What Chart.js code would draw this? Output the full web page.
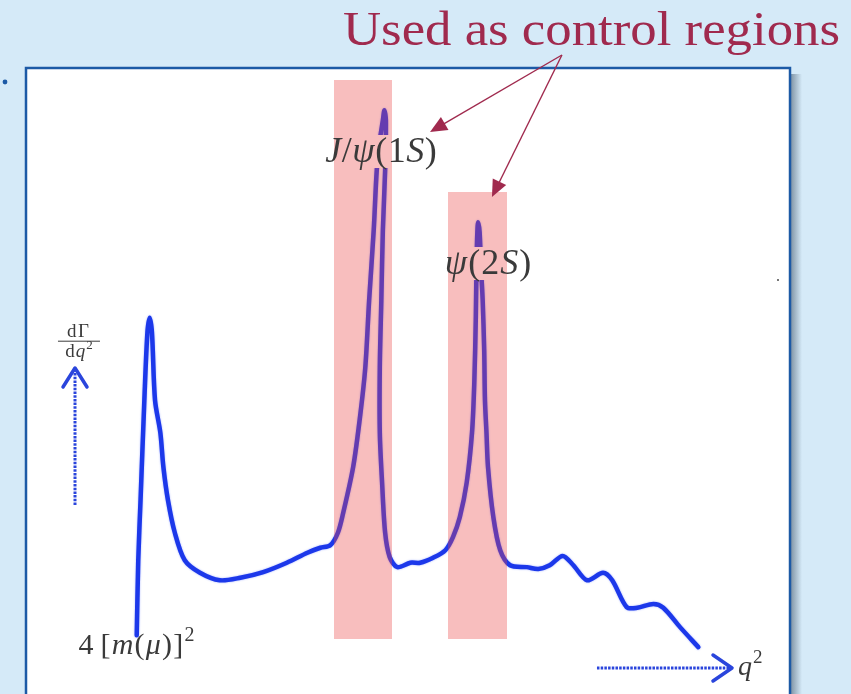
<!DOCTYPE html>
<html>
<head>
<meta charset="utf-8">
<script src="https://cdn.jsdelivr.net/npm/chart.js@4.4.1/dist/chart.umd.min.js"></script>
<style>
html,body{margin:0;padding:0;background:#d5eaf8;}
canvas{display:block;}
</style>
</head>
<body>
<canvas id="c" width="851" height="694"></canvas>
<script>
// ---- data (arbitrary units: q^2 along x, dGamma/dq^2 along y) ----
const qSquared = [14.4,14.6,14.9,15.4,15.8,16.1,16.4,16.8,17.5,17.9,18.5,19.4,20.7,22.7,25.3,28.0,
  31.0,34.1,36.8,38.5,39.8,40.8,41.5,42.8,43.7,44.4,44.9,45.5,45.9,46.3,46.7,46.9,47.1,47.0,46.7,46.5,
  46.3,46.3,46.6,47.0,47.6,48.6,50.3,51.6,53.3,54.9,55.9,56.8,57.7,58.4,58.7,58.9,59.0,59.1,59.2,59.4,
  59.6,59.8,60.0,60.1,60.3,60.5,61.2,62.1,63.4,65.6,67.1,68.6,70.3,71.7,73.5,75.6,76.8,78.7,80.1,82.2,
  83.5,85.7,88.1];
const rate = [9.4,21.4,31.0,47.0,57.8,60.2,57.8,47.0,41.8,36.3,31.0,25.8,21.4,19.4,18.2,18.6,
  19.5,21.0,22.6,23.4,23.8,25.8,29.0,36.3,44.3,52.3,63.0,74.2,83.8,88.6,91.8,93.4,91.8,83.8,74.2,63.0,
  52.3,41.8,33.8,25.8,21.9,20.3,21.0,21.0,21.8,23.0,25.1,28.3,33.8,41.8,49.8,60.3,69.4,73.9,75.5,73.9,
  67.8,63.0,55.0,47.0,41.8,36.3,28.3,23.0,20.6,20.3,20.0,20.6,22.1,20.6,18.2,19.4,18.2,13.9,13.8,14.4,
  13.8,10.7,7.5];
// control regions (pink bands)
const bandNames  = ['J/ψ(1S)', 'ψ(2S)'];
const bandStart  = [40.3, 55.25];
const bandEnd    = [47.9, 63.0];
const bandTop    = [98.2, 80.3];
const bandBottom = [8.8, 8.8];
// resonance label anchors
const labelX = [46.46, 60.5];
const labelY = [87.0, 69.1];
// annotation arrow targets
const arrowTipX = [52.89, 61.02];
const arrowTipY = [89.92, 79.52];
const arrowFrom = {x: 70.2, y: 102.24};
const titleText = 'Used as control regions';
const yAxisLabel = ['dΓ', 'dq²'];
const xAxisLabel = 'q²';
const thresholdLabel = '4 [m(μ)]²';

const BAND_FILL = 'rgba(235,70,70,0.35)';
const ITALIC = 'JψSmμq';
const MATH_FONT = '"Liberation Serif"';

function drawMath(ctx, str, x, baseline, size, align, color, spread) {
  spread = spread || 0;
  const runs = [];
  for (const ch of str) {
    if (ch === '²') runs.push({t:'2', it:false, sup:true});
    else runs.push({t:ch, it: ITALIC.includes(ch), sup:false});
  }
  const fontFor = r => (r.it ? 'italic ' : '') + (r.sup ? Math.round(size*0.68) : size) + 'px ' + MATH_FONT;
  let total = 0;
  runs.forEach((r, i) => {
    ctx.font = fontFor(r);
    r.w = ctx.measureText(r.t).width * (r.t === ' ' ? 0.6 : 1) + (i < runs.length - 1 ? spread : 0);
    total += r.w;
  });
  let cx = align === 'center' ? x - total/2 : (align === 'right' ? x - total : x);
  ctx.fillStyle = color;
  ctx.textBaseline = 'alphabetic';
  ctx.textAlign = 'left';
  for (const r of runs) {
    ctx.font = fontFor(r);
    ctx.fillText(r.t, cx, r.sup ? baseline - size*0.42 : baseline);
    cx += r.w;
  }
  return total;
}

function arrowHead(ctx, x1, y1, x2, y2, len, half) {
  const a = Math.atan2(y2 - y1, x2 - x1);
  ctx.beginPath();
  ctx.moveTo(x2, y2);
  ctx.lineTo(x2 - len*Math.cos(a) + half*Math.sin(a), y2 - len*Math.sin(a) - half*Math.cos(a));
  ctx.lineTo(x2 - len*Math.cos(a) - half*Math.sin(a), y2 - len*Math.sin(a) + half*Math.cos(a));
  ctx.closePath();
  ctx.fill();
}

const slidePlugin = {
  id: 'slide',
  beforeDraw(chart) {
    const ctx = chart.ctx;
    ctx.save();
    ctx.fillStyle = '#d5eaf8';
    ctx.fillRect(0, 0, chart.width, chart.height);
    // shadow of the framed box
    const g = ctx.createLinearGradient(791, 0, 802, 0);
    g.addColorStop(0, 'rgba(60,80,100,0.55)');
    g.addColorStop(1, 'rgba(60,80,100,0)');
    ctx.fillStyle = g;
    ctx.fillRect(791, 74, 11, chart.height);
    // white framed box
    ctx.fillStyle = '#ffffff';
    ctx.fillRect(26, 68, 764, chart.height);
    ctx.strokeStyle = '#1c5aa6';
    ctx.lineWidth = 2.5;
    ctx.strokeRect(26, 68, 764, chart.height + 10);
    // bullet
    ctx.fillStyle = '#1c5aa6';
    ctx.beginPath(); ctx.arc(5, 82, 2.4, 0, Math.PI*2); ctx.fill();
    // tiny speck
    ctx.fillStyle = '#777';
    ctx.fillRect(777, 279, 2, 2);
    // title
    ctx.font = '48px "Liberation Serif"';
    const w = ctx.measureText(titleText).width;
    const target = 497;
    ctx.translate(343, 45);
    ctx.scale(target / w, 1);
    ctx.fillStyle = '#a02a4e';
    ctx.textAlign = 'left';
    ctx.textBaseline = 'alphabetic';
    ctx.fillText(titleText, 0, 0);
    ctx.restore();
  },
  beforeDatasetsDraw(chart) {
    const ctx = chart.ctx;
    ctx.save();
    ctx.shadowColor = 'rgba(40,70,255,0.45)';
    ctx.shadowBlur = 2;
  },
  afterDatasetsDraw(chart) {
    const ctx = chart.ctx;
    ctx.restore();
    const xs = chart.scales.x, ys = chart.scales.y;
    const px = v => xs.getPixelForValue(v), py = v => ys.getPixelForValue(v);
    ctx.save();
    // bands (translucent, over the curve)
    const bandRects = [];
    for (let i = 0; i < bandStart.length; i++) {
      const x0 = Math.round(px(bandStart[i])), x1 = Math.round(px(bandEnd[i]));
      const y0 = Math.round(py(bandTop[i])), y1 = Math.round(py(bandBottom[i]));
      bandRects.push([x0, y0, x1 - x0, y1 - y0]);
      ctx.fillStyle = BAND_FILL;
      ctx.fillRect(x0, y0, x1 - x0, y1 - y0);
    }
    // resonance labels with knockout of the curve behind them
    const labelSize = 36;
    const labelSpread = [0.5, 1];
    for (let i = 0; i < bandNames.length; i++) {
      const cx = px(labelX[i]), base = Math.round(py(labelY[i]) + 12);
      const kw = i === 0 ? 112 : 84;
      const kx = Math.round(cx - kw/2), ky = base - 27;
      ctx.save();
      ctx.beginPath();
      ctx.rect(kx, ky, kw, 33);
      ctx.clip();
      ctx.fillStyle = '#ffffff';
      ctx.fillRect(kx, ky, kw, 33);
      ctx.fillStyle = BAND_FILL;
      for (const r of bandRects) ctx.fillRect(r[0], r[1], r[2], r[3]);
      ctx.restore();
      drawMath(ctx, bandNames[i], cx, base, labelSize, 'center', '#3a3a3a', labelSpread[i]);
    }
    // threshold label
    drawMath(ctx, thresholdLabel, px(14.37), py(6.4), 30, 'center', '#3a3a3a', 1.2);
    // y axis label (fraction)
    const fx = px(6.69);
    drawMath(ctx, yAxisLabel[0], fx, py(57.2), 19, 'center', '#3a3a3a', 1.5);
    ctx.strokeStyle = '#3a3a3a'; ctx.lineWidth = 1;
    ctx.beginPath(); ctx.moveTo(fx - 20, py(56.45)); ctx.lineTo(fx + 22, py(56.45)); ctx.stroke();
    drawMath(ctx, yAxisLabel[1], fx + 1, py(54.0), 19, 'center', '#3a3a3a', 1);
    // y axis arrow
    ctx.strokeStyle = '#2a45dc';
    ctx.lineWidth = 3;
    ctx.setLineDash([2.5, 1.2]);
    const ax = px(6.30);
    ctx.beginPath(); ctx.moveTo(ax, py(30.24)); ctx.lineTo(ax, py(52.0)); ctx.stroke();
    ctx.setLineDash([]);
    ctx.lineWidth = 3.5; ctx.lineCap = 'round'; ctx.lineJoin = 'round';
    ctx.beginPath(); ctx.moveTo(ax - 12, py(52.16) + 19); ctx.lineTo(ax, py(52.16)); ctx.lineTo(ax + 12, py(52.16) + 19); ctx.stroke();
    // x axis arrow
    const ay = py(4.16);
    ctx.lineWidth = 3; ctx.lineCap = 'butt';
    ctx.setLineDash([2.5, 1.2]);
    ctx.beginPath(); ctx.moveTo(px(74.8), ay); ctx.lineTo(px(92.3), ay); ctx.stroke();
    ctx.setLineDash([]);
    ctx.lineWidth = 3.5; ctx.lineCap = 'round';
    const tx = px(92.52);
    ctx.beginPath(); ctx.moveTo(tx - 19, ay - 13); ctx.lineTo(tx, ay); ctx.lineTo(tx - 19, ay + 13); ctx.stroke();
    drawMath(ctx, xAxisLabel, px(93.3), py(3.04), 28, 'left', '#3a3a3a', 1);
    // annotation arrows
    ctx.strokeStyle = '#a02a4e'; ctx.fillStyle = '#a02a4e';
    ctx.lineWidth = 1.4; ctx.lineCap = 'butt';
    const sx = px(arrowFrom.x), sy = py(arrowFrom.y);
    for (let i = 0; i < arrowTipX.length; i++) {
      const ex = px(arrowTipX[i]), ey = py(arrowTipY[i]);
      const a = Math.atan2(ey - sy, ex - sx);
      ctx.beginPath(); ctx.moveTo(sx, sy); ctx.lineTo(ex - 12*Math.cos(a), ey - 12*Math.sin(a)); ctx.stroke();
      arrowHead(ctx, sx, sy, ex, ey, 17, 7.5);
    }
    ctx.restore();
  }
};

new Chart(document.getElementById('c'), {
  type: 'line',
  data: {
    datasets: [{
      data: qSquared.map((q, i) => ({x: q, y: rate[i]})),
      borderColor: '#1c38ea',
      borderWidth: 4.5,
      pointRadius: 0,
      tension: 0.3,
      fill: false,
      borderCapStyle: 'round',
      borderJoinStyle: 'round'
    }]
  },
  options: {
    responsive: false,
    animation: false,
    layout: {padding: {left: 27, right: 62, top: 69, bottom: 0}},
    plugins: {legend: {display: false}, tooltip: {enabled: false}},
    scales: {
      x: {type: 'linear', min: 0, max: 100, display: false},
      y: {type: 'linear', min: 0, max: 100, display: false}
    }
  },
  plugins: [slidePlugin]
});
</script>
</body>
</html>
